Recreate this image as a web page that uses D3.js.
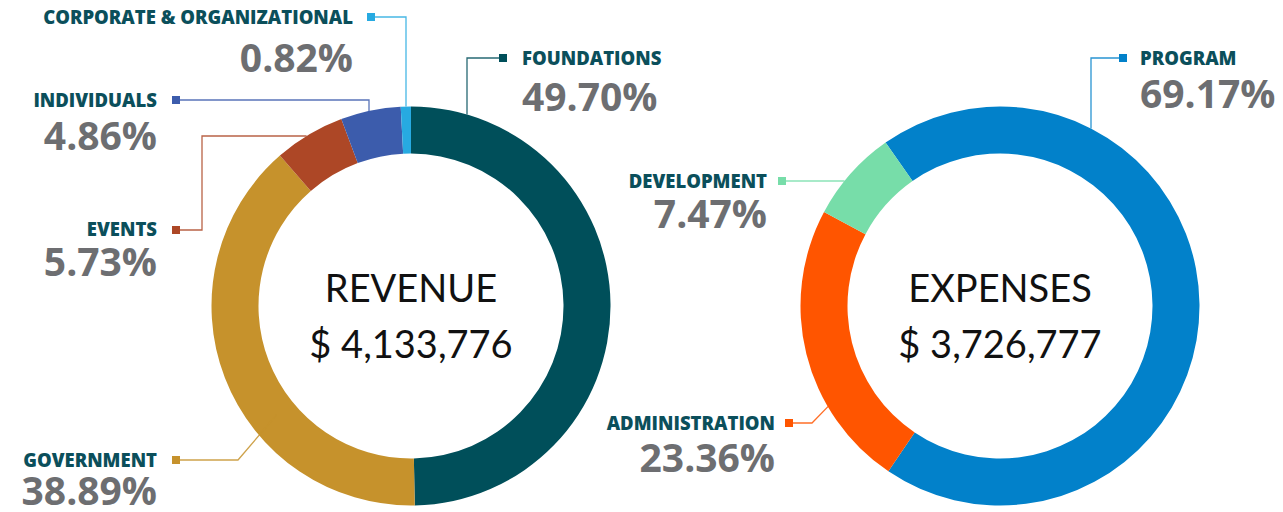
<!DOCTYPE html>
<html>
<head>
<meta charset="utf-8">
<script src="https://cdn.jsdelivr.net/npm/d3@7"></script>
<style>
  body { margin: 0; background: #fff; }
  svg { display: block; }
  .lbl { font-family: "Open Sans", Lato, sans-serif; font-weight: 800; font-size: 18.5px; fill: #0b4f5b; }
  .pct { font-family: "Open Sans", Lato, sans-serif; font-weight: 700; font-size: 39px; fill: #6d6e71; }
  .ctr { font-family: Lato, "Open Sans", sans-serif; font-weight: 400; font-size: 38px; fill: #111; }
</style>
</head>
<body>
<svg width="1283" height="512"></svg>
<script>
// revenue donut
var revenueCats   = ["FOUNDATIONS", "GOVERNMENT", "EVENTS", "INDIVIDUALS", "CORPORATE & ORGANIZATIONAL"];
var revenueVals   = [49.70, 38.89, 5.73, 4.86, 0.82];
var revenueColors = ["#004f5a", "#c6922c", "#ad4726", "#3c5cac", "#27aae1"];
var revenueTitle  = ["REVENUE", "$ 4,133,776"];

// expenses donut
var expenseCats   = ["PROGRAM", "ADMINISTRATION", "DEVELOPMENT"];
var expenseVals   = [69.17, 23.36, 7.47];
var expenseColors = ["#0281ca", "#ff5500", "#77dda9"];
var expenseTitle  = ["EXPENSES", "$ 3,726,777"];

// where each label sits and how its leader runs (marker -> elbows -> ring)
var revenueLayout = [
  {x: 522, y: 65,  py: 111, anchor: "start", m: [503, 58],  pts: [[467, 58]], end: "v"},
  {x: 157, y: 467, py: 505, anchor: "end",   m: [176, 460], pts: [[238, 460]], end: 231, r: 173},
  {x: 157, y: 236, py: 276, anchor: "end",   m: [176, 230], pts: [[202, 230], [202, 136]], end: "h"},
  {x: 157, y: 107, py: 150, anchor: "end",   m: [176, 100], pts: [[369, 100]], end: "v"},
  {x: 353, y: 24,  py: 72,  anchor: "end",   m: [371, 17],  pts: [[406, 17]], end: "v"}
];
var expenseLayout = [
  {x: 1140, y: 65,  py: 108, anchor: "start", m: [1123, 58], pts: [[1091, 58]], end: "v"},
  {x: 775,  y: 430, py: 472, anchor: "end",   m: [789, 423], pts: [[812, 423]], end: 239.7, r: 199},
  {x: 767,  y: 188, py: 228, anchor: "end",   m: [782, 181], pts: [], end: "h"}
];

var svg = d3.select("svg");
var outerR = 199.5, innerR = 152.5;
var fmt = d3.format(".2f");

function donut(cx, cy, cats, vals, colors, title, layout, start) {
  var a0 = start * Math.PI / 180;
  var pie = d3.pie().startAngle(a0).endAngle(a0 + 2 * Math.PI);
  var arc = d3.arc().innerRadius(innerR).outerRadius(outerR);

  var g = svg.append("g").attr("transform", "translate(" + cx + "," + cy + ")");
  g.selectAll("path").data(pie(vals)).enter().append("path")
      .attr("d", arc)
      .attr("fill", (d, i) => colors[i]);

  g.append("text").attr("class", "ctr").attr("text-anchor", "middle")
      .attr("y", -4).text(title[0]);
  g.append("text").attr("class", "ctr").attr("text-anchor", "middle")
      .attr("y", 52).text(title[1]);

  // leaders + labels
  layout.forEach(function(L, i) {
    var pts = [L.m].concat(L.pts);
    var last = pts[pts.length - 1];
    var e;
    if (L.end === "v") {
      var dx = last[0] - cx;
      e = [last[0], cy - Math.sqrt(outerR * outerR - dx * dx)];
    } else if (L.end === "h") {
      var dy = last[1] - cy;
      e = [cx - Math.sqrt(outerR * outerR - dy * dy), last[1]];
    } else {
      var t = L.end * Math.PI / 180;
      e = [cx + L.r * Math.sin(t), cy - L.r * Math.cos(t)];
    }
    pts.push(e);

    svg.append("path")
        .attr("d", d3.line()(pts))
        .attr("fill", "none")
        .attr("stroke", colors[i])
        .attr("stroke-opacity", 0.85)
        .attr("stroke-width", 1.3);
    svg.append("rect")
        .attr("x", L.m[0] - 4).attr("y", L.m[1] - 4)
        .attr("width", 8).attr("height", 8)
        .attr("fill", colors[i]);

    svg.append("text").attr("class", "lbl")
        .attr("x", L.x).attr("y", L.y)
        .attr("text-anchor", L.anchor)
        .text(cats[i]);
    svg.append("text").attr("class", "pct")
        .attr("x", L.x).attr("y", L.py)
        .attr("text-anchor", L.anchor)
        .text(fmt(vals[i]) + "%");
  });
}

donut(411, 306, revenueCats, revenueVals, revenueColors, revenueTitle, revenueLayout, 0);
donut(1000, 306, expenseCats, expenseVals, expenseColors, expenseTitle, expenseLayout, -35);
</script>
</body>
</html>
